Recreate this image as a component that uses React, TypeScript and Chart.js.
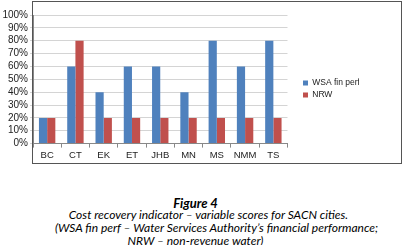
import React, { useEffect, useRef } from "react";
import { Chart, registerables } from "chart.js";

Chart.register(...registerables);

const categories = ["BC", "CT", "EK", "ET", "JHB", "MN", "MS", "NMM", "TS"];
const wsaFinPerf = [20, 60, 40, 60, 60, 40, 80, 60, 80];
const nrw = [20, 80, 20, 20, 20, 20, 20, 20, 20];
const seriesNames = ["WSA fin perf", "NRW"];
const yTicks = [0, 10, 20, 30, 40, 50, 60, 70, 80, 90, 100];

const FONT = "'Liberation Sans', Arial, sans-serif";

export default function App() {
  const ref = useRef<HTMLCanvasElement | null>(null);

  useEffect(() => {
    document.body.style.margin = "0";
    const ctx = ref.current!.getContext("2d")!;
    const chart = new Chart(ctx, {
      type: "bar",
      data: {
        labels: categories,
        datasets: [
          {
            label: seriesNames[0],
            data: wsaFinPerf,
            backgroundColor: "#4F81BD",
            categoryPercentage: 0.58,
            barPercentage: 1.0,
          },
          {
            label: seriesNames[1],
            data: nrw,
            backgroundColor: "#C0504D",
            categoryPercentage: 0.58,
            barPercentage: 1.0,
          },
        ],
      },
      options: {
        animation: false,
        responsive: false,
        maintainAspectRatio: false,
        layout: { padding: { top: 15, right: 44, left: 2, bottom: 2 } },
        plugins: {
          tooltip: { enabled: false },
          legend: {
            position: "right",
            align: "center",
            labels: {
              boxWidth: 5,
              boxHeight: 5,
              padding: 3.5,
              color: "#222",
              font: { family: FONT, size: 8.5 },
            },
          },
        },
        scales: {
          x: {
            grid: {
              offset: true,
              drawOnChartArea: false,
              drawTicks: true,
              tickLength: 4,
              color: "#888",
            },
            border: { color: "#888" },
            ticks: {
              color: "#222",
              font: { family: FONT, size: 9.5 },
              padding: 2,
              maxRotation: 0,
              autoSkip: false,
            },
          },
          y: {
            min: 0,
            max: 100,
            afterBuildTicks: (axis: any) => {
              axis.ticks = yTicks.map((v) => ({ value: v }));
            },
            afterFit: (axis: any) => {
              axis.width = 31;
            },
            grid: {
              color: "#d4d4d4",
              tickLength: 3,
              drawTicks: true,
            },
            border: { color: "#888" },
            ticks: {
              color: "#222",
              font: { family: FONT, size: 10 },
              padding: 2,
              autoSkip: false,
              callback: (v: any) => v + "%",
            },
          },
          gap: {
            position: "right",
            display: true,
            grid: { display: false },
            border: { display: false },
            ticks: { display: false },
            afterFit: (axis: any) => {
              axis.width = 12;
            },
          },
        },
      },
    });
    return () => chart.destroy();
  }, []);

  const line = (shift: number): React.CSSProperties => ({ position: "relative", left: shift });

  return (
    <div style={{ position: "absolute", left: 0, top: 0, width: 403, height: 245, background: "#fff" }}>
      <canvas ref={ref} width={403} height={165} style={{ position: "absolute", left: 0, top: 0, width: 403, height: 165 }} />
      <div
        style={{
          position: "absolute",
          left: 32,
          top: 1,
          width: 368,
          height: 161,
          border: "1px solid #555",
          pointerEvents: "none",
        }}
      />
      <div
        style={{
          position: "absolute",
          left: 0,
          top: 195,
          width: 403,
          textAlign: "center",
          fontFamily: "Lato, 'Open Sans', sans-serif",
          fontStyle: "italic",
          fontSize: 12,
          lineHeight: "13px",
          color: "#000",
          whiteSpace: "nowrap",
        }}
      >
        <div style={{ ...line(-6), top: 2, fontWeight: "bold", fontSize: 13 }}>Figure 4</div>
        <div style={line(7)}>Cost recovery indicator – variable scores for SACN cities.</div>
        <div style={line(15)}>(WSA fin perf – Water Services Authority’s financial performance;</div>
        <div style={line(-6)}>NRW – non-revenue water)</div>
      </div>
    </div>
  );
}
